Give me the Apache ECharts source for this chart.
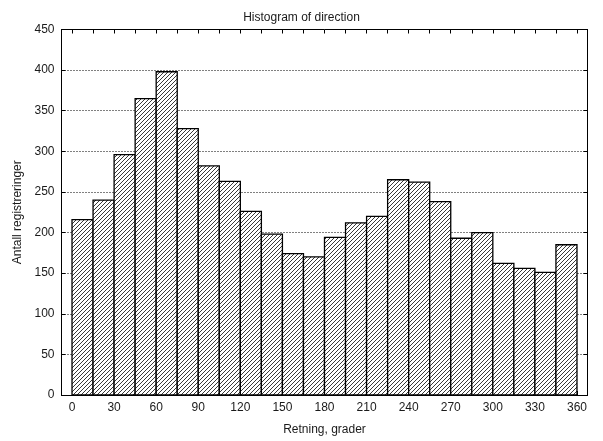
<!DOCTYPE html>
<html>
<head>
<meta charset="utf-8">
<script src="https://cdn.jsdelivr.net/npm/echarts@6/dist/echarts.min.js"></script>
<style>
  html, body { margin: 0; padding: 0; background: #fff; }
  #chart { width: 603px; height: 441px; }
</style>
</head>
<body>
<div id="chart"></div>
<script>
// Direction histogram: 15-degree bins from 0 to 360
const binStarts = [0, 15, 30, 45, 60, 75, 90, 105, 120, 135, 150, 165,
                   180, 195, 210, 225, 240, 255, 270, 285, 300, 315, 330, 345];
const binWidth = 15;
const counts = [216, 240, 296, 365, 398, 328, 282, 263, 226, 198, 174, 170,
                194, 212, 220, 265, 262, 238, 193, 200, 162, 156, 151, 185];
const xTickLabels = [0, 30, 60, 90, 120, 150, 180, 210, 240, 270, 300, 330, 360];
const xMinorTicks = [0, 15, 30, 45, 60, 75, 90, 105, 120, 135, 150, 165, 180,
                     195, 210, 225, 240, 255, 270, 285, 300, 315, 330, 345, 360];

// Diagonal hatch fill for the boxes
function makeHatch(size) {
  const c = document.createElement('canvas');
  c.width = size; c.height = size;
  const g = c.getContext('2d');
  g.fillStyle = '#fff';
  g.fillRect(0, 0, size, size);
  g.strokeStyle = '#222';
  g.lineWidth = 0.9;
  g.beginPath();
  g.moveTo(-1, size + 1); g.lineTo(size + 1, -1);
  g.moveTo(-1, 1); g.lineTo(1, -1);
  g.moveTo(size - 1, size + 1); g.lineTo(size + 1, size - 1);
  g.stroke();
  return c;
}
const hatch = { image: makeHatch(4), repeat: 'repeat' };

const data = binStarts.map((s, i) => [s, s + binWidth, counts[i]]);

const textColor = '#1a1a1a';
const fontFamily = '"Liberation Sans", Arial, sans-serif';

const chart = echarts.init(document.getElementById('chart'), null, { renderer: 'canvas' });
chart.setOption({
  animation: false,
  backgroundColor: '#fff',
  title: {
    text: 'Histogram of direction',
    left: 'center',
    top: 7,
    textStyle: { fontFamily, fontSize: 12, fontWeight: 'normal', color: textColor }
  },
  grid: { left: 61.5, right: 15.5, top: 29.5, bottom: 46, containLabel: false },
  xAxis: [{
    type: 'value',
    min: -7.5,
    max: 367.5,
    position: 'bottom',
    name: 'Retning, grader',
    nameLocation: 'middle',
    nameGap: 29,
    nameTextStyle: { fontFamily, fontSize: 12, color: textColor },
    axisLine: { show: true, onZero: false, lineStyle: { color: '#000', width: 1 } },
    axisTick: { show: true, inside: true, length: 4, customValues: xMinorTicks, lineStyle: { color: '#000' } },
    axisLabel: { customValues: xTickLabels, margin: 7, fontFamily, fontSize: 12, color: textColor },
    splitLine: { show: false }
  }, {
    type: 'value',
    min: -7.5,
    max: 367.5,
    position: 'top',
    axisLine: { show: true, onZero: false, lineStyle: { color: '#000', width: 1 } },
    axisTick: { show: true, inside: true, length: 4, customValues: xMinorTicks, lineStyle: { color: '#000' } },
    axisLabel: { show: false },
    splitLine: { show: false }
  }],
  yAxis: [{
    type: 'value',
    min: 0,
    max: 450,
    interval: 50,
    position: 'left',
    name: 'Antall registreringer',
    nameLocation: 'middle',
    nameGap: 38,
    nameTextStyle: { fontFamily, fontSize: 12, color: textColor },
    axisLine: { show: true, onZero: false, lineStyle: { color: '#000', width: 1 } },
    axisTick: { show: true, inside: true, length: 4, lineStyle: { color: '#000' } },
    axisLabel: { margin: 7, fontFamily, fontSize: 12, color: textColor },
    splitLine: { show: true, lineStyle: { color: '#000', width: 1, type: [1, 2] } }
  }, {
    type: 'value',
    min: 0,
    max: 450,
    interval: 50,
    position: 'right',
    axisLine: { show: true, onZero: false, lineStyle: { color: '#000', width: 1 } },
    axisTick: { show: true, inside: true, length: 4, lineStyle: { color: '#000' } },
    axisLabel: { show: false },
    splitLine: { show: false }
  }],
  series: [{
    type: 'custom',
    xAxisIndex: 0,
    yAxisIndex: 0,
    data: data,
    encode: { x: [0, 1], y: 2 },
    z: 3,
    renderItem: function (params, api) {
      const p0 = api.coord([api.value(0), 0]);
      const p1 = api.coord([api.value(1), api.value(2)]);
      return {
        type: 'rect',
        shape: { x: p0[0], y: p1[1], width: p1[0] - p0[0], height: p0[1] - p1[1] },
        style: { fill: hatch, stroke: '#000', lineWidth: 1.3 }
      };
    }
  }]
});
</script>
</body>
</html>
